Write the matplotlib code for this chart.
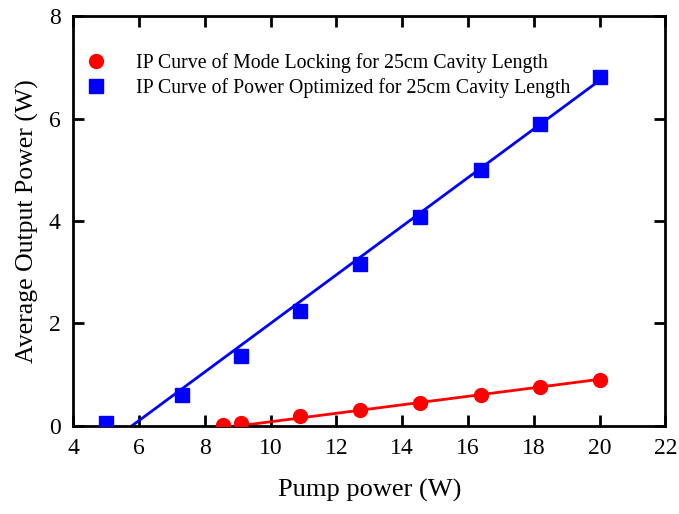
import numpy as np
import matplotlib
matplotlib.use("Agg")
import matplotlib.pyplot as plt

plt.rcParams["font.family"] = ["Liberation Serif", "DejaVu Serif"]

# power optimized (blue squares)
pump_opt = [5.0, 7.3, 9.1, 10.9, 12.7, 14.55, 16.4, 18.2, 20.0]
out_opt = [0.05, 0.6, 1.37, 2.25, 3.15, 4.08, 5.0, 5.9, 6.82]
# mode locking (red circles)
pump_ml = [8.55, 9.1, 10.9, 12.7, 14.55, 16.4, 18.2, 20.0]
out_ml = [0.02, 0.05, 0.18, 0.3, 0.44, 0.6, 0.75, 0.9]
# linear fits: slope, intercept, x range
fit_opt = (0.475, -2.75, 5.79, 20.0)
fit_ml = (0.083, -0.755, 9.1, 20.0)

fig, ax = plt.subplots(figsize=(6.79, 5.14), dpi=100)
fig.subplots_adjust(left=0.108, right=0.98, top=0.968, bottom=0.172)

for (k, b, x0, x1), c in [(fit_opt, "#0000ff"), (fit_ml, "#ff0000")]:
    xs = np.array([x0, x1])
    ax.plot(xs, k * xs + b, color=c, lw=2, zorder=2)

ax.plot(pump_ml, out_ml, "o", color="#ff0000", ms=10, zorder=3,
        label="IP Curve of Mode Locking for 25cm Cavity Length")
ax.plot(pump_opt, out_opt, "s", color="#0000ff", ms=10, zorder=3,
        label="IP Curve of Power Optimized for 25cm Cavity Length")

ax.set_xlim(4, 22)
ax.set_ylim(0, 8)
ax.set_xticks(range(4, 23, 2))
ax.set_yticks(range(0, 9, 2))
ax.tick_params(direction="in", length=8, width=2, top=True, right=True,
               labelsize=17, pad=9)
for s in ax.spines.values():
    s.set_linewidth(2)
ax.set_xlabel("Pump power (W)", fontsize=19, labelpad=14)
ax.set_ylabel("Average Output Power (W)", fontsize=18.5, labelpad=7)
ax.legend(loc="upper left", frameon=False, fontsize=14.3, handletextpad=1.5,
          borderaxespad=0.3, bbox_to_anchor=(-0.002, 0.945), labelspacing=0.25,
          handlelength=1.0)

fig.savefig("out.png", dpi=100)
